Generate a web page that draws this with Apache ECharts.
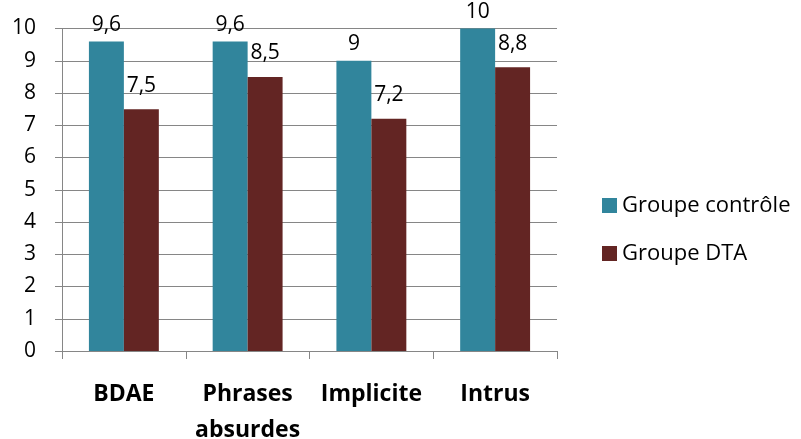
<!DOCTYPE html>
<html><head><meta charset="utf-8">
<script src="https://cdn.jsdelivr.net/npm/echarts@6/dist/echarts.min.js"></script>
<style>html,body{margin:0;padding:0;background:#fff}#c{width:801px;height:439px}</style>
</head><body><div id="c"></div>
<script>
const categories = ['BDAE', 'Phrases\nabsurdes', 'Implicite', 'Intrus'];
const controle = [9.6, 9.6, 9, 10];
const dta = [7.5, 8.5, 7.2, 8.8];
const seriesNames = ['Groupe contrôle', 'Groupe DTA'];

const chart = echarts.init(document.getElementById('c'), null, {renderer: 'canvas'});
const font = '"Open Sans", sans-serif';
const fmt = p => String(p.value).replace('.', ',');
chart.setOption({
  animation: false,
  textStyle: {fontFamily: font},
  grid: {left: 62, right: 244, top: 28.5, bottom: 88, containLabel: false, outerBoundsMode: 'none'},
  legend: {
    orient: 'vertical', left: 597, top: 187,
    itemWidth: 15, itemHeight: 15, itemGap: 21,
    icon: 'rect',
    textStyle: {fontFamily: font, fontSize: 22, color: '#000', lineHeight: 27},
    data: seriesNames
  },
  xAxis: {
    type: 'category', data: categories,
    axisLine: {lineStyle: {color: '#868686', width: 1}},
    axisTick: {show: true, length: 8, lineStyle: {color: '#868686'}},
    axisLabel: {interval: 0, hideOverlap: false, fontFamily: font, fontSize: 23, fontWeight: 'bold', color: '#000', margin: 25, lineHeight: 36}
  },
  yAxis: {
    type: 'value', min: 0, max: 10, interval: 1,
    axisLine: {show: true, lineStyle: {color: '#868686'}},
    axisTick: {show: true, length: 7, lineStyle: {color: '#868686'}},
    splitLine: {lineStyle: {color: '#868686', width: 1}},
    axisLabel: {fontFamily: font, fontSize: 21, color: '#000', margin: 26}
  },
  series: [
    {name: seriesNames[0], type: 'bar', data: controle, barGap: '0%', barCategoryGap: '43.5%',
     itemStyle: {color: '#31859C'},
     label: {show: true, position: 'top', distance: 6, formatter: fmt, fontFamily: font, fontSize: 21, color: '#000'}},
    {name: seriesNames[1], type: 'bar', data: dta,
     itemStyle: {color: '#632523'},
     label: {show: true, position: 'top', distance: 13, formatter: fmt, fontFamily: font, fontSize: 21, color: '#000'}}
  ]
});
</script></body></html>
